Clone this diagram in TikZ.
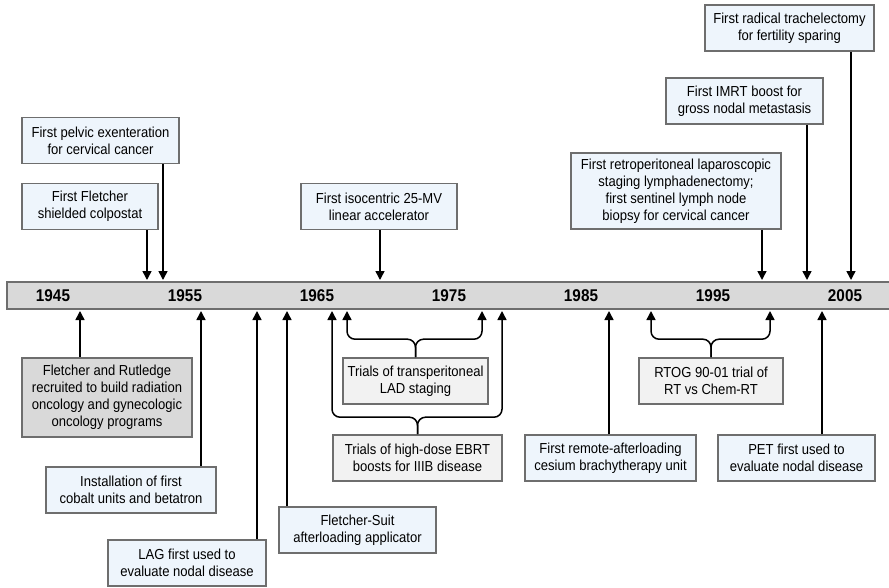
\documentclass[tikz,border=0pt]{standalone}
\usepackage{fontspec}
\setmainfont{Liberation Sans}[FakeStretch=0.9]
\usetikzlibrary{arrows.meta}
\definecolor{boxline}{HTML}{6E6E6E}
\definecolor{bluefill}{HTML}{EEF5FC}
\definecolor{darkfill}{HTML}{D9D9D9}
\definecolor{lightfill}{HTML}{F2F2F2}

\begin{document}
\begin{tikzpicture}[x=1pt,y=-1pt,
		event/.style={draw=boxline,line width=1.6pt,fill=bluefill,align=center,inner sep=0pt,
			minimum height=46pt,font=\fontsize{14.5}{17}\selectfont},
		trial/.style={event,fill=lightfill},
		yearlbl/.style={font=\fontsize{17}{18}\selectfont\bfseries},
		arr/.style={line width=1.5pt,-{Triangle[length=9pt,width=9pt]}}]
		\useasboundingbox (0,0) rectangle (889,587);

		% the time bar
		\fill[darkfill] (7,282) rectangle (889,309);
		\draw[boxline,line width=2pt] (889,282) -| (7,309) -- (889,309);
		\foreach \yr/\x in {1945/53,1955/185,1965/317,1975/449,1985/581,1995/713,2005/845}
			\node[yearlbl] (y\yr) at (\x,296) {\yr};

		% points on the bar
		\coordinate (tColp) at (147,280);
		\coordinate (tPelv) at (163,280);
		\coordinate (tIso) at (380,280);
		\coordinate (tRetro) at (762,280);
		\coordinate (tImrt) at (807,280);
		\coordinate (tTrach) at (851,280);
		\coordinate (bRutl) at (80,311);
		\coordinate (bCob) at (201,311);
		\coordinate (bLag) at (257,311);
		\coordinate (bSuit) at (287,311);
		\coordinate (bEbrtL) at (332,311);
		\coordinate (bLadL) at (347,311);
		\coordinate (bLadR) at (482,311);
		\coordinate (bEbrtR) at (502,311);
		\coordinate (bCs) at (609,311);
		\coordinate (bRtogL) at (651,311);
		\coordinate (bRtogR) at (770,311);
		\coordinate (bPet) at (822,311);

		% above the bar
		\node[event,minimum width=157pt] (pelv) at (100.5,140.5) {First pelvic exenteration\\for cervical cancer};
		\node[event,minimum width=136pt] (colp) at (90,206.5) {First Fletcher\\shielded colpostat};
		\node[event,minimum width=156pt] (iso) at (379,206.5) {First isocentric 25-MV\\linear accelerator};
		\node[event,minimum width=210pt,minimum height=76pt] (retro) at (676,191) {First retroperitoneal laparoscopic\\staging lymphadenectomy;\\first sentinel lymph node\\biopsy for cervical cancer};
		\node[event,minimum width=157pt] (imrt) at (744.5,101) {First IMRT boost for\\gross nodal metastasis};
		\node[event,minimum width=169pt] (trach) at (789.5,28) {First radical trachelectomy\\for fertility sparing};

		\draw[arr] (colp.south -| tColp) -- (tColp);
		\draw[arr] (pelv.south -| tPelv) -- (tPelv);
		\draw[arr] (iso.south -| tIso) -- (tIso);
		\draw[arr] (retro.south -| tRetro) -- (tRetro);
		\draw[arr] (imrt.south -| tImrt) -- (tImrt);
		\draw[arr] (trach.south -| tTrach) -- (tTrach);

		% below the bar
		\node[event,fill=darkfill,minimum width=170pt,minimum height=79pt] (rutl) at (107,397.5) {Fletcher and Rutledge\\recruited to build radiation\\oncology and gynecologic\\oncology programs};
		\node[event,minimum width=170pt] (cob) at (131,490) {Installation of first\\cobalt units and betatron};
		\node[event,minimum width=158pt] (lag) at (187,563) {LAG first used to\\evaluate nodal disease};
		\node[event,minimum width=157pt] (suit) at (357.5,530) {Fletcher-Suit\\afterloading applicator};
		\node[trial,minimum width=145pt] (lad) at (415.5,381) {Trials of transperitoneal\\LAD staging};
		\node[trial,minimum width=169pt] (ebrt) at (417.5,458) {Trials of high-dose EBRT\\boosts for IIIB disease};
		\node[event,minimum width=171pt] (cs) at (610.5,458) {First remote-afterloading\\cesium brachytherapy unit};
		\node[trial,minimum width=144pt] (rtog) at (711,381) {RTOG 90-01 trial of\\RT vs Chem-RT};
		\node[event,minimum width=157pt] (pet) at (796.5,458) {PET first used to\\evaluate nodal disease};

		\draw[arr] (rutl.north -| bRutl) -- (bRutl);
		\draw[arr] (cob.north -| bCob) -- (bCob);
		\draw[arr] (lag.north -| bLag) -- (bLag);
		\draw[arr] (suit.north -| bSuit) -- (bSuit);
		\draw[arr] (cs.north -| bCs) -- (bCs);
		\draw[arr] (pet.north -| bPet) -- (bPet);

		\draw[arr,rounded corners=8pt] (lad.north) -- ++(0,-18) -| (bLadL);
		\draw[arr,rounded corners=8pt] (lad.north) -- ++(0,-18) -| (bLadR);
		\draw[arr,rounded corners=8pt] (ebrt.north) -- ++(0,-17) -| (bEbrtL);
		\draw[arr,rounded corners=8pt] (ebrt.north) -- ++(0,-17) -| (bEbrtR);
		\draw[arr,rounded corners=8pt] (rtog.north) -- ++(0,-18) -| (bRtogL);
		\draw[arr,rounded corners=8pt] (rtog.north) -- ++(0,-18) -| (bRtogR);
	\end{tikzpicture}
\end{document}
